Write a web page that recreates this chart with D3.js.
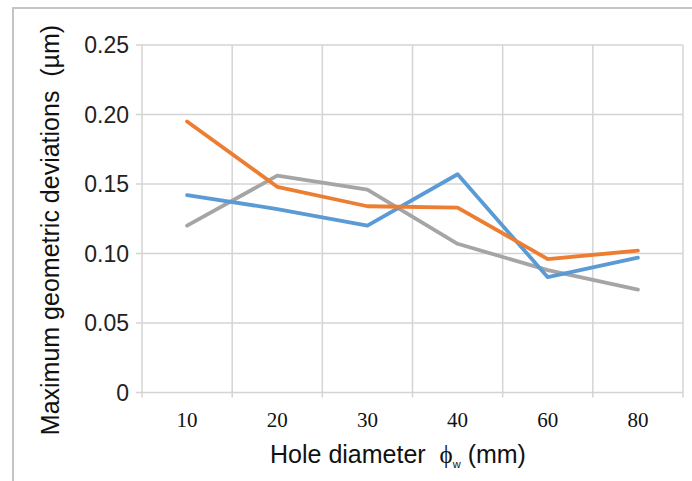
<!DOCTYPE html>
<html>
<head>
<meta charset="utf-8">
<script src="https://cdn.jsdelivr.net/npm/d3@7"></script>
<style>
  body { margin: 0; background: #fff; }
  svg { display: block; }
  text { white-space: pre; }
</style>
</head>
<body>
<div id="chart"></div>
<script>
// hole diameters (categorical)
var diameters = ["10", "20", "30", "40", "60", "80"];
// series values
var blueVals = [0.142, 0.132, 0.120, 0.157, 0.083, 0.097];
var orangeVals = [0.195, 0.148, 0.134, 0.133, 0.096, 0.102];
var grayVals = [0.120, 0.156, 0.146, 0.107, 0.088, 0.074];
var yTicks = [0, 0.05, 0.10, 0.15, 0.20, 0.25];
var yTickLabels = ["0", "0.05", "0.10", "0.15", "0.20", "0.25"];

var w = 692, h = 481;
var plotLeft = 142, plotRight = 683, plotTop = 45, plotBottom = 392.5;

var svg = d3.select("#chart").append("svg")
    .attr("width", w)
    .attr("height", h);

// outer frame (only left and top edges show in the picture)
svg.append("path")
    .attr("d", "M13,481 L13,8 L692,8")
    .attr("fill", "none")
    .attr("stroke", "#c4c4c4")
    .attr("stroke-width", 2);

var x = d3.scaleBand()
    .domain(diameters)
    .range([plotLeft, plotRight]);

var y = d3.scaleLinear()
    .domain([0, 0.25])
    .range([plotBottom, plotTop]);

var gridColor = "#d4d4d4";

// horizontal gridlines
svg.append("g").selectAll("line")
    .data(yTicks)
    .enter().append("line")
    .attr("x1", plotLeft - 6)
    .attr("x2", plotRight)
    .attr("y1", function (d) { return y(d); })
    .attr("y2", function (d) { return y(d); })
    .attr("stroke", gridColor)
    .attr("stroke-width", 1.5);

// vertical gridlines at band edges
var edges = diameters.map(function (d) { return x(d); }).concat([plotRight]);
svg.append("g").selectAll("line")
    .data(edges)
    .enter().append("line")
    .attr("x1", function (d) { return d; })
    .attr("x2", function (d) { return d; })
    .attr("y1", plotTop)
    .attr("y2", plotBottom + 5)
    .attr("stroke", gridColor)
    .attr("stroke-width", 1.5);

// y tick labels
svg.append("g").selectAll("text")
    .data(yTicks)
    .enter().append("text")
    .attr("x", 129)
    .attr("y", function (d) { return y(d); })
    .attr("dy", "0.35em")
    .attr("text-anchor", "end")
    .style("font-family", "Liberation Sans, Arial, sans-serif")
    .style("font-size", "23px")
    .style("fill", "#222")
    .text(function (d, i) { return yTickLabels[i]; });

// x tick labels
svg.append("g").selectAll("text")
    .data(diameters)
    .enter().append("text")
    .attr("x", function (d) { return x(d) + x.bandwidth() / 2; })
    .attr("y", 427)
    .attr("text-anchor", "middle")
    .style("font-family", "Liberation Serif, Times New Roman, serif")
    .style("font-size", "21px")
    .style("fill", "#111")
    .text(function (d) { return d; });

// lines
var line = d3.line()
    .x(function (d, i) { return x(diameters[i]) + x.bandwidth() / 2; })
    .y(function (d) { return y(d); });

var series = [
    { vals: grayVals, color: "#a5a5a5" },
    { vals: blueVals, color: "#5b9bd5" },
    { vals: orangeVals, color: "#ed7d31" }
];

svg.append("g").selectAll("path")
    .data(series)
    .enter().append("path")
    .attr("d", function (d) { return line(d.vals); })
    .attr("fill", "none")
    .attr("stroke", function (d) { return d.color; })
    .attr("stroke-width", 3.8)
    .attr("stroke-linejoin", "round")
    .attr("stroke-linecap", "round");

// axis titles
var xt = svg.append("text")
    .attr("x", 398)
    .attr("y", 463)
    .attr("text-anchor", "middle")
    .style("font-family", "Liberation Sans, Arial, sans-serif")
    .style("font-size", "25px")
    .style("fill", "#111");
xt.append("tspan").text("Hole diameter  ");
xt.append("tspan").style("font-family", "Liberation Serif, serif").text("ϕ");
xt.append("tspan").attr("dy", 5).style("font-size", "11px").text("w");
xt.append("tspan").attr("dy", -5).text(" (mm)");

svg.append("text")
    .attr("transform", "translate(59,230) rotate(-90)")
    .attr("text-anchor", "middle")
    .style("font-family", "Liberation Sans, Arial, sans-serif")
    .style("font-size", "25px")
    .style("fill", "#111")
    .text("Maximum geometric deviations  (µm)");
</script>
</body>
</html>
